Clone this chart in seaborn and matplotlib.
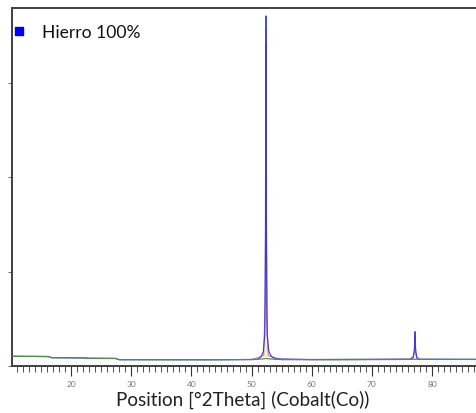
import matplotlib
matplotlib.use("Agg")
import matplotlib.pyplot as plt
from matplotlib.lines import Line2D
from matplotlib.ticker import MultipleLocator
import seaborn as sns
import pandas as pd

# Background curve (counts vs 2theta)
bg_theta = [10.2, 14.0, 16.3, 16.8, 22.0, 22.4, 22.8, 27.4, 28.0, 40.0, 50.0,
            51.6, 52.4, 53.2, 55.0, 65.0, 76.5, 77.2, 78.0, 85.0, 90.0]
bg_counts = [103, 102, 100, 88, 86, 90, 82, 80, 67, 66, 68,
             74, 80, 74, 68, 66, 70, 72, 70, 70, 70]

# Measured scan, Hierro 100%
scan_theta = [10.2, 16.3, 16.8, 22.0, 22.8, 27.4, 28.0, 45.0, 51.0, 51.6,
              51.95, 52.2, 52.32, 52.40, 52.48, 52.6, 52.85, 53.3, 54.0, 60.0,
              76.4, 76.9, 77.08, 77.17, 77.26, 77.45, 77.9, 88.0, 90.0]
scan_counts = [103, 100, 88, 86, 82, 80, 67, 66, 70, 100,
               150, 330, 1400, 3712, 1300, 330, 160, 100, 76, 68,
               72, 100, 190, 364, 180, 95, 72, 70, 70]

# Fitted profile
fit_theta = [50.0, 52.0, 52.3, 52.40, 52.46, 52.52, 52.8, 55.0,
             76.8, 77.1, 77.18, 77.26, 77.5]
fit_counts = [68, 110, 700, 3430, 2200, 500, 110, 68,
              72, 150, 320, 140, 72]

# Reference pattern line
ref_theta = [52.2, 52.36, 52.42, 52.48, 52.6]
ref_counts = [100, 1500, 3590, 1200, 100]

sns.set_style("white")
plt.rcParams["font.family"] = ["Lato", "DejaVu Sans"]

W, H = 476, 414
fig = plt.figure(figsize=(W / 100, H / 100), dpi=100)
ax = fig.add_axes([12 / W, (H - 367) / H, 468 / W, 358 / H])

sns.lineplot(data=pd.DataFrame({"t": ref_theta, "c": ref_counts}), x="t", y="c",
             ax=ax, color="#f0d060", lw=0.8, alpha=0.7, estimator=None, sort=False, zorder=2)
sns.lineplot(data=pd.DataFrame({"t": fit_theta, "c": fit_counts}), x="t", y="c",
             ax=ax, color="#d05080", lw=0.8, alpha=0.7, estimator=None, sort=False, zorder=2)
sns.lineplot(data=pd.DataFrame({"t": scan_theta, "c": scan_counts}), x="t", y="c",
             ax=ax, color="#2a2ae0", lw=0.9, alpha=0.85, estimator=None, sort=False, zorder=3)
sns.lineplot(data=pd.DataFrame({"t": bg_theta, "c": bg_counts}), x="t", y="c",
             ax=ax, color="#4f8f4f", lw=0.9, estimator=None, sort=False, zorder=5)

ax.set_xlim(10.19, 87.97)
ax.set_ylim(0, 3796)
ax.xaxis.set_major_locator(MultipleLocator(10))
ax.xaxis.set_minor_locator(MultipleLocator(1))
ax.yaxis.set_major_locator(MultipleLocator(1000))
ax.set_yticklabels([])
ax.tick_params(axis="x", which="major", direction="out", length=7, width=0.8,
               color="#333333", labelsize=6, labelcolor="#777777", pad=3, bottom=True)
ax.tick_params(axis="x", which="minor", direction="out", length=4, width=0.6,
               color="#333333", bottom=True)
ax.tick_params(axis="y", which="major", direction="out", length=3, width=0.6,
               color="#555555", left=True)

for s in ax.spines.values():
    s.set_color("#404040")
    s.set_linewidth(1.4)

ax.set_ylabel("")
ax.set_xlabel("Position [°2Theta] (Cobalt(Co))", fontsize=13.6, color="#222222", labelpad=4)
ax.xaxis.set_label_coords((243 - 12) / 468, -24 / 358)

handle = Line2D([], [], marker="s", linestyle="none", markersize=6,
                markerfacecolor="#0000ee", markeredgecolor="#0000ee")
leg = fig.legend([handle], ["Hierro 100%"], loc="upper left",
                 bbox_to_anchor=(3 / W, 1 - 16 / H), frameon=False,
                 handlelength=0.8, handletextpad=0.9, borderpad=0,
                 prop={"size": 12.6})
for t in leg.get_texts():
    t.set_color("#111111")

fig.savefig("out.png", dpi=100)
